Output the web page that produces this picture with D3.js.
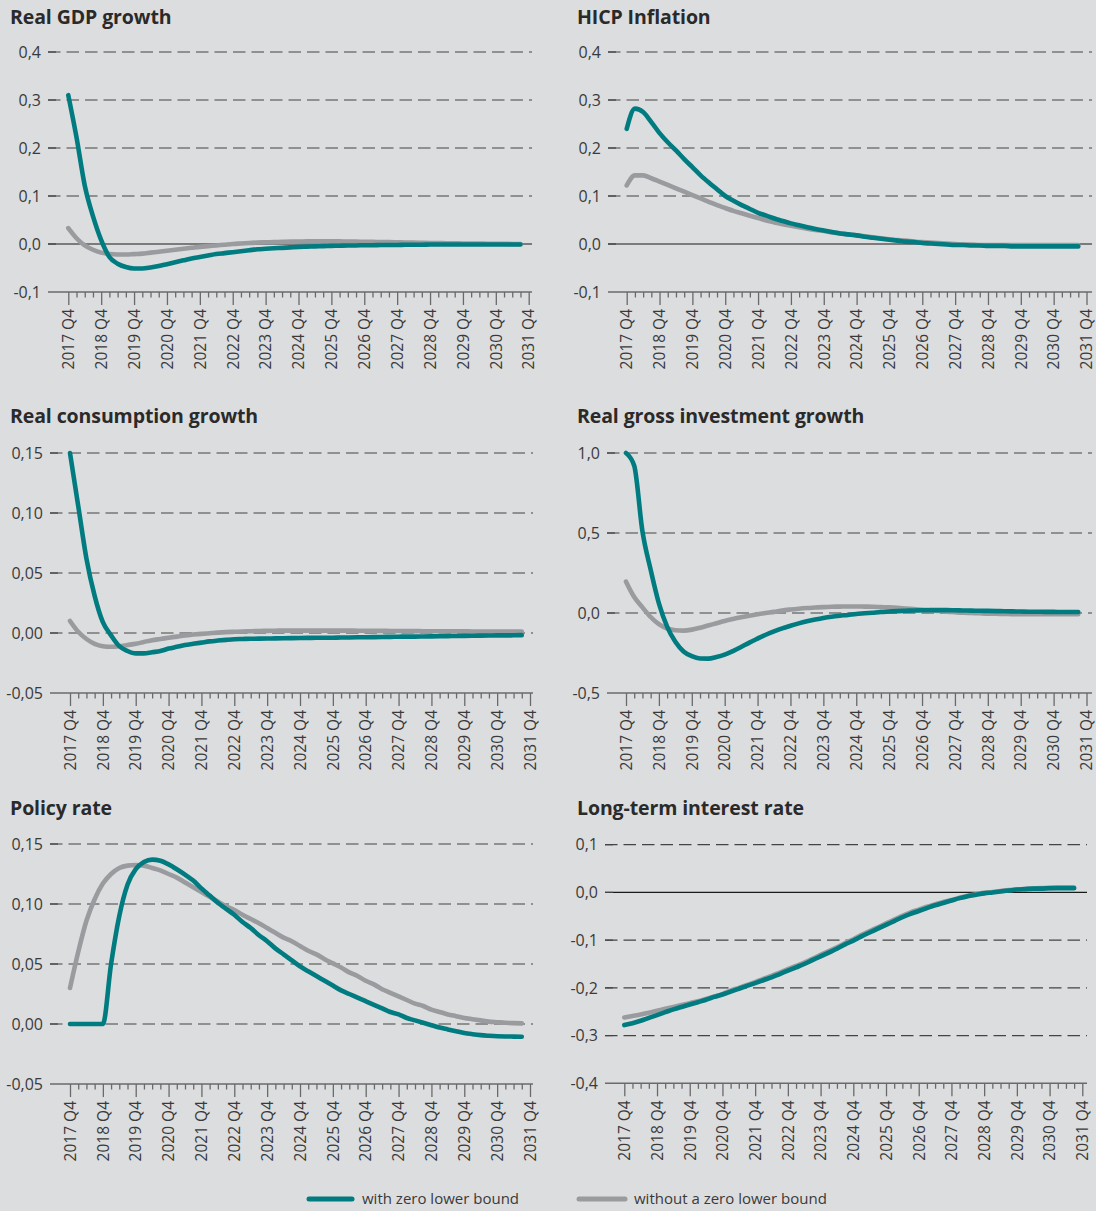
<!DOCTYPE html>
<html><head><meta charset="utf-8">
<script src="https://cdn.jsdelivr.net/npm/d3@7"></script>
<style>
body{margin:0;background:#dcdddf;}
svg{display:block}
</style></head><body>
<svg id="c" width="1096" height="1211"></svg>
<script>
// ---------- DATA ----------
const yearLabels = ["2017 Q4","2018 Q4","2019 Q4","2020 Q4","2021 Q4","2022 Q4","2023 Q4","2024 Q4",
  "2025 Q4","2026 Q4","2027 Q4","2028 Q4","2029 Q4","2030 Q4","2031 Q4"];
const seriesNames = ["with zero lower bound","without a zero lower bound"];

// quarterly values 2017 Q4 ... 2031 Q3 (56 quarters)
const gdpZLB = [0.31,0.222,0.122,0.058,0.008,-0.027,-0.041,-0.048,-0.051,-0.051,
  -0.049,-0.046,-0.042,-0.038,-0.034,-0.030,-0.027,-0.024,-0.021,-0.019,
  -0.017,-0.015,-0.013,-0.011,-0.010,-0.009,-0.008,-0.007,-0.006,-0.0055,
  -0.005,-0.0045,-0.004,-0.0035,-0.003,-0.003,-0.0025,-0.0025,-0.002,-0.002,
  -0.002,-0.0015,-0.0015,-0.0015,-0.001,-0.001,-0.001,-0.001,-0.001,-0.001,
  -0.001,-0.001,-0.001,-0.001,-0.001,-0.001];
const gdpNoZLB = [0.033,0.012,-0.003,-0.012,-0.018,-0.021,-0.022,-0.022,-0.021,-0.020,
  -0.018,-0.016,-0.014,-0.012,-0.010,-0.008,-0.006,-0.0045,-0.003,-0.0015,
  0,0.001,0.002,0.003,0.0035,0.004,0.0045,0.005,0.005,0.0055,
  0.0055,0.0055,0.0055,0.0055,0.005,0.005,0.0045,0.0045,0.004,0.004,
  0.0035,0.003,0.003,0.0025,0.002,0.002,0.0015,0.0015,0.001,0.001,
  0.001,0.0005,0.0005,0.0005,0,0];

const hicpZLB = [0.24,0.282,0.275,0.254,0.231,0.212,0.195,0.177,0.16,0.143,
  0.128,0.114,0.10,0.09,0.081,0.073,0.065,0.059,0.053,0.048,
  0.043,0.039,0.035,0.031,0.028,0.025,0.022,0.020,0.018,0.015,
  0.013,0.011,0.009,0.007,0.005,0.004,0.002,0.001,0,-0.001,
  -0.002,-0.002,-0.003,-0.003,-0.004,-0.004,-0.004,-0.005,-0.005,-0.005,
  -0.005,-0.005,-0.005,-0.005,-0.005,-0.005];
const hicpNoZLB = [0.122,0.143,0.143,0.137,0.130,0.123,0.116,0.109,0.102,0.095,
  0.088,0.081,0.075,0.069,0.064,0.059,0.054,0.049,0.045,0.041,
  0.038,0.035,0.032,0.029,0.027,0.024,0.022,0.020,0.018,0.016,
  0.014,0.012,0.010,0.008,0.007,0.005,0.004,0.003,0.002,0.001,
  0,-0.001,-0.001,-0.002,-0.002,-0.002,-0.002,-0.002,-0.002,-0.002,
  -0.002,-0.002,-0.002,-0.002,-0.002,-0.002];

const consZLB = [0.150,0.106,0.062,0.031,0.009,-0.002,-0.011,-0.015,-0.017,-0.017,
  -0.016,-0.015,-0.013,-0.0115,-0.010,-0.009,-0.008,-0.007,-0.0063,-0.0057,
  -0.0052,-0.005,-0.0048,-0.0047,-0.0046,-0.0045,-0.0044,-0.0043,-0.0042,-0.0041,
  -0.004,-0.004,-0.0039,-0.0038,-0.0037,-0.0036,-0.0035,-0.0034,-0.0033,-0.0032,
  -0.0031,-0.003,-0.003,-0.0029,-0.0028,-0.0027,-0.0026,-0.0025,-0.0024,-0.0023,
  -0.0022,-0.0021,-0.002,-0.002,-0.0019,-0.0018];
const consNoZLB = [0.010,0.001,-0.005,-0.009,-0.011,-0.0115,-0.011,-0.010,-0.009,-0.0075,
  -0.006,-0.005,-0.004,-0.003,-0.002,-0.0013,-0.0007,-0.0002,0.0003,0.0007,
  0.001,0.0013,0.0015,0.0017,0.0018,0.0019,0.002,0.002,0.002,0.002,
  0.002,0.002,0.002,0.002,0.002,0.0019,0.0019,0.0018,0.0018,0.0017,
  0.0017,0.0016,0.0016,0.0015,0.0015,0.0015,0.0014,0.0014,0.0014,0.0013,
  0.0013,0.0013,0.0012,0.0012,0.0012,0.0012];

const invZLB = [1.0,0.92,0.51,0.27,0.06,-0.085,-0.18,-0.24,-0.27,-0.284,
  -0.285,-0.275,-0.26,-0.238,-0.213,-0.185,-0.16,-0.136,-0.115,-0.096,
  -0.08,-0.065,-0.052,-0.041,-0.031,-0.023,-0.017,-0.012,-0.006,-0.002,
  0.002,0.006,0.009,0.012,0.014,0.016,0.017,0.018,0.018,0.018,
  0.017,0.016,0.015,0.014,0.013,0.012,0.011,0.010,0.009,0.008,
  0.008,0.007,0.007,0.006,0.006,0.006];
const invNoZLB = [0.196,0.10,0.035,-0.025,-0.07,-0.097,-0.108,-0.11,-0.104,-0.092,
  -0.078,-0.064,-0.05,-0.038,-0.027,-0.017,-0.008,0.0,0.007,0.016,
  0.022,0.027,0.031,0.034,0.037,0.039,0.040,0.041,0.041,0.040,
  0.039,0.037,0.035,0.032,0.028,0.024,0.020,0.016,0.012,0.008,
  0.005,0.002,0,-0.002,-0.004,-0.005,-0.006,-0.007,-0.007,-0.008,
  -0.008,-0.008,-0.008,-0.008,-0.008,-0.008];

const policyZLB = [0,0,0,0,0,0.05,0.09,0.116,0.129,0.135,
  0.137,0.136,0.133,0.129,0.1245,0.1195,0.113,0.107,0.101,0.096,
  0.091,0.085,0.080,0.074,0.069,0.063,0.058,0.053,0.048,0.044,
  0.040,0.036,0.032,0.028,0.025,0.022,0.019,0.016,0.013,0.010,
  0.008,0.005,0.003,0.001,-0.001,-0.003,-0.0045,-0.006,-0.0075,-0.0085,
  -0.0093,-0.0098,-0.0102,-0.0104,-0.0105,-0.0106];
const policyNoZLB = [0.03,0.06,0.086,0.104,0.117,0.125,0.13,0.132,0.1325,0.132,
  0.130,0.128,0.125,0.122,0.118,0.114,0.110,0.106,0.102,0.098,
  0.095,0.091,0.0875,0.084,0.080,0.076,0.072,0.069,0.065,0.061,
  0.058,0.054,0.0505,0.047,0.043,0.040,0.036,0.033,0.029,0.026,
  0.023,0.020,0.017,0.015,0.012,0.010,0.008,0.0065,0.005,0.004,
  0.003,0.002,0.0015,0.001,0.0007,0.0005];

const ltZLB = [-0.278,-0.274,-0.269,-0.263,-0.257,-0.251,-0.245,-0.240,-0.235,-0.230,
  -0.225,-0.219,-0.214,-0.208,-0.202,-0.196,-0.190,-0.184,-0.178,-0.171,
  -0.164,-0.157,-0.150,-0.142,-0.134,-0.126,-0.118,-0.109,-0.101,-0.092,
  -0.084,-0.076,-0.068,-0.060,-0.052,-0.045,-0.039,-0.033,-0.027,-0.022,
  -0.017,-0.012,-0.008,-0.005,-0.002,0.0,0.002,0.004,0.006,0.007,
  0.008,0.008,0.009,0.009,0.009,0.009];
const ltNoZLB = [-0.262,-0.259,-0.256,-0.252,-0.248,-0.244,-0.240,-0.236,-0.232,-0.228,
  -0.223,-0.218,-0.213,-0.206,-0.200,-0.194,-0.188,-0.181,-0.175,-0.168,
  -0.161,-0.154,-0.147,-0.139,-0.131,-0.123,-0.115,-0.106,-0.098,-0.089,
  -0.081,-0.073,-0.065,-0.057,-0.049,-0.042,-0.036,-0.030,-0.025,-0.020,
  -0.016,-0.011,-0.007,-0.004,-0.001,0.001,0.003,0.005,0.006,0.007,
  0.008,0.009,0.009,0.010,0.010,0.010];

const gdpTicks = [-0.1,0,0.1,0.2,0.3,0.4];
const gdpTickLabels = ["-0,1","0,0","0,1","0,2","0,3","0,4"];
const consTicks = [-0.05,0,0.05,0.10,0.15];
const consTickLabels = ["-0,05","0,00","0,05","0,10","0,15"];
const invTicks = [-0.5,0,0.5,1.0];
const invTickLabels = ["-0,5","0,0","0,5","1,0"];
const ltTicks = [-0.4,-0.3,-0.2,-0.1,0,0.1];
const ltTickLabels = ["-0,4","-0,3","-0,2","-0,1","0,0","0,1"];

// ---------- LAYOUT ----------
const TEAL = "#007b80", GREY = "#9a9b9e", TXT = "#3a3a3a", GRID = "#444";
const FONT = "'Open Sans', 'Noto Sans', sans-serif";

const panels = [
  {title:"Real GDP growth", a:gdpZLB, b:gdpNoZLB, ticks:gdpTicks, labels:gdpTickLabels,
   tx:10, ty:24, x0:68.3, x1:528.7, g0:48, g1:532, yb:292, yt:52, solidZero:true},
  {title:"HICP Inflation", a:hicpZLB, b:hicpNoZLB, ticks:gdpTicks, labels:gdpTickLabels,
   tx:577, ty:24, x0:626.7, x1:1086.5, g0:608, g1:1092, yb:292, yt:52, solidZero:true},
  {title:"Real consumption growth", a:consZLB, b:consNoZLB, ticks:consTicks, labels:consTickLabels,
   tx:10, ty:423, x0:70, x1:530, g0:50, g1:533, yb:693, yt:453, solidZero:false},
  {title:"Real gross investment growth", a:invZLB, b:invNoZLB, ticks:invTicks, labels:invTickLabels,
   tx:577, ty:423, x0:626, x1:1086.5, g0:607, g1:1092, yb:693, yt:453, solidZero:false},
  {title:"Policy rate", a:policyZLB, b:policyNoZLB, ticks:consTicks, labels:consTickLabels,
   tx:10, ty:815, x0:70, x1:530, g0:50, g1:533, yb:1084, yt:844, solidZero:false},
  {title:"Long-term interest rate", a:ltZLB, b:ltNoZLB, ticks:ltTicks, labels:ltTickLabels,
   tx:577, ty:815, x0:624.3, x1:1082.3, g0:605, g1:1087, yb:1083.3, yt:844.7, solidZero:true}
];

const svg = d3.select("#c");
svg.append("rect").attr("width",1096).attr("height",1211).attr("fill","#dcdddf");

panels.forEach(p => {
  const g = svg.append("g");
  const x = d3.scaleLinear().domain([0,56]).range([p.x0,p.x1]);
  const y = d3.scaleLinear().domain([p.ticks[0], p.ticks[p.ticks.length-1]]).range([p.yb,p.yt]);

  g.append("text").attr("x",p.tx).attr("y",p.ty).text(p.title)
    .attr("font-family",FONT).attr("font-weight",700).attr("font-size",19.5)
    .attr("letter-spacing",-0.1).attr("fill","#2a2a2a");

  // gridlines
  p.ticks.slice(1).forEach((t,k) => {
    const yy = y(t);
    const isZero = Math.abs(t) < 1e-9;
    g.append("line").attr("x1",p.g0).attr("x2",p.g1).attr("y1",yy).attr("y2",yy)
      .attr("stroke", isZero && p.solidZero ? "#1a1a1a" : GRID)
      .attr("stroke-width", isZero && p.solidZero ? 1.1 : 1.2)
      .attr("stroke-dasharray", isZero && p.solidZero ? null : "12.5,6");
    g.append("line").attr("x1",p.g0).attr("x2",p.g0+8).attr("y1",yy).attr("y2",yy)
      .attr("stroke", GRID).attr("stroke-width",1.2);
  });
  // y labels
  p.ticks.forEach((t,k) => {
    g.append("text").attr("x",p.g0-7).attr("y",y(t)).attr("dy","0.36em")
      .attr("text-anchor","end").text(p.labels[k])
      .attr("font-family",FONT).attr("font-size",16).attr("fill",TXT);
  });

  // x axis line
  g.append("line").attr("x1",p.g0).attr("x2",p.g1).attr("y1",p.yb).attr("y2",p.yb)
    .attr("stroke","#6a6a6a").attr("stroke-width",1.4);

  const axis = d3.axisBottom(x).tickValues(d3.range(57)).tickSizeInner(5.5).tickSizeOuter(0)
    .tickFormat(i => i % 4 === 0 ? yearLabels[i/4] : "");
  const ax = g.append("g").attr("transform",`translate(0,${p.yb})`).call(axis);
  ax.select(".domain").remove();
  ax.selectAll(".tick line").attr("stroke","#6a6a6a").attr("stroke-width",1.3)
    .attr("y2", i => i % 4 === 0 ? 13 : 5.5);
  ax.selectAll(".tick text")
    .attr("transform","rotate(-90)")
    .attr("text-anchor","end")
    .attr("x",-17).attr("y",0).attr("dy","0.34em")
    .attr("font-family",FONT).attr("font-size",15.5).attr("fill",TXT);

  const line = d3.line().x((d,i)=>x(i)).y(d=>y(d)).curve(d3.curveMonotoneX);
  g.append("path").datum(p.b).attr("d",line).attr("fill","none").attr("stroke",GREY)
    .attr("stroke-width",4.6).attr("stroke-linecap","round").attr("stroke-linejoin","round");
  g.append("path").datum(p.a).attr("d",line).attr("fill","none").attr("stroke",TEAL)
    .attr("stroke-width",4.6).attr("stroke-linecap","round").attr("stroke-linejoin","round");
});

// legend
const leg = [{x1:309,x2:352,tx:362,c:TEAL,name:seriesNames[0]},
             {x1:579,x2:625,tx:634,c:GREY,name:seriesNames[1]}];
leg.forEach(l => {
  svg.append("line").attr("x1",l.x1).attr("x2",l.x2).attr("y1",1199).attr("y2",1199)
    .attr("stroke",l.c).attr("stroke-width",5).attr("stroke-linecap","round");
  svg.append("text").attr("x",l.tx).attr("y",1199).attr("dy","0.36em").text(l.name)
    .attr("font-family",FONT).attr("font-size",15).attr("fill",TXT);
});
</script>
</body></html>
